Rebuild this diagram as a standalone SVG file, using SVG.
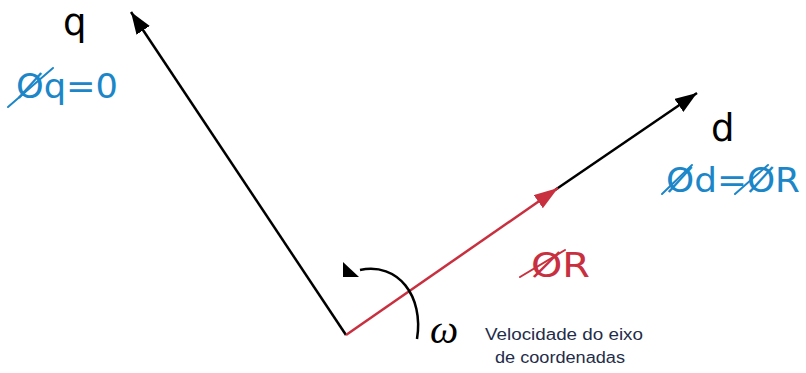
<svg xmlns="http://www.w3.org/2000/svg" width="806" height="373" viewBox="0 0 806 373">
<style>
.lbl{font-family:"DejaVu Sans",sans-serif;font-size:34px}
.big{font-family:"DejaVu Sans",sans-serif;font-size:37px;fill:#000}
.blue{fill:#1b86c8}
.red{fill:#c8303f}
.ax{stroke:#000;stroke-width:2.5;fill:none}
.sl{stroke-width:2;stroke-linecap:round}
.note{font-family:"Liberation Sans",Arial,sans-serif;font-size:16px;fill:#1f2d4a}
</style>
<defs>
<marker id="ah" markerUnits="userSpaceOnUse" markerWidth="24" markerHeight="18" refX="22" refY="8" orient="auto">
<path d="M0,0 L22,8 L0,16 Z" fill="#000"/>
</marker>
<marker id="ahr" markerUnits="userSpaceOnUse" markerWidth="26" markerHeight="18" refX="24" refY="8" orient="auto">
<path d="M0,0 L24,8 L0,16 Z" fill="#c8303f"/>
</marker>
</defs>
<g id="connectors">
<line class="ax" x1="346" y1="335" x2="131" y2="12" marker-end="url(#ah)"/>
<line class="ax" x1="555" y1="190" x2="697" y2="93" marker-end="url(#ah)"/>
<line x1="346" y1="335" x2="558" y2="188" stroke="#c8303f" stroke-width="2.5" marker-end="url(#ahr)"/>
<path d="M417,339 C424,296 398,262 360,270" stroke="#000" stroke-width="2.5" fill="none"/>
<path d="M343,262 L343,277 L359,277 Z" fill="#000"/>
</g>
<g id="q-axis">
<text class="big" x="63" y="35">q</text>
<text class="lbl blue" x="16" y="98" textLength="102" lengthAdjust="spacingAndGlyphs">Øq=0</text>
<line class="sl" x1="8" y1="107" x2="53" y2="68" stroke="#1b86c8"/>
</g>
<g id="d-axis">
<text class="big" x="711" y="141">d</text>
<text class="lbl blue" x="666" y="192" textLength="134" lengthAdjust="spacingAndGlyphs">Ød=ØR</text>
<line class="sl" x1="662" y1="194" x2="692" y2="165" stroke="#1b86c8"/>
<line class="sl" x1="735" y1="194" x2="768" y2="165" stroke="#1b86c8"/>
</g>
<g id="phiR">
<text class="lbl red" x="531" y="277" textLength="59" lengthAdjust="spacingAndGlyphs">ØR</text>
<line class="sl" x1="520" y1="277" x2="565" y2="250" stroke="#c8303f"/>
</g>
<g id="omega">
<text x="430" y="343" font-family="Liberation Serif,serif" font-style="italic" font-size="40" fill="#000">ω</text>
<text class="note" x="485" y="340" textLength="158" lengthAdjust="spacingAndGlyphs">Velocidade do eixo</text>
<text class="note" x="495" y="363" textLength="130" lengthAdjust="spacingAndGlyphs">de coordenadas</text>
</g>
</svg>
